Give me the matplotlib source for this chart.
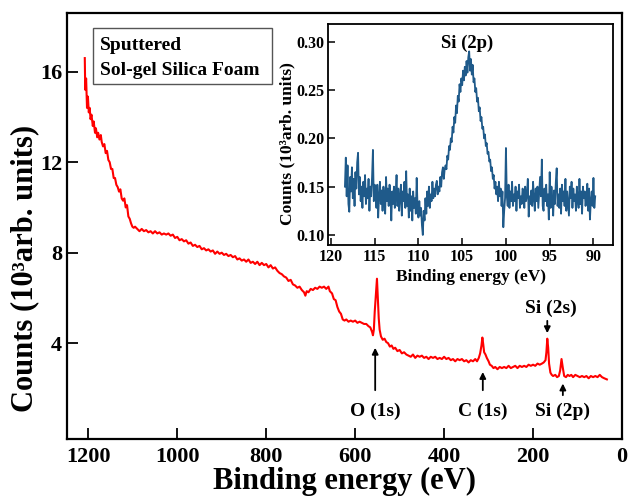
import numpy as np
import matplotlib
matplotlib.use("Agg")
import matplotlib.pyplot as plt
from matplotlib.patches import Rectangle

plt.rcParams["font.family"] = "Liberation Serif"
plt.rcParams["font.weight"] = "bold"
plt.rcParams["axes.labelweight"] = "bold"
plt.rcParams["xtick.direction"] = "in"
plt.rcParams["ytick.direction"] = "in"

# survey spectrum (binding energy eV, counts 10^3)
survey = [
    (1208, 16.6), (1207, 15.2), (1205, 15.7), (1203, 14.4), (1201, 14.9), (1199, 14.2),
    (1197, 14.4), (1195, 13.9), (1193, 14.1), (1190, 13.6), (1188, 13.8), (1185, 13.3),
    (1183, 13.5), (1180, 13.1), (1178, 13.3), (1175, 13.0), (1172, 13.2), (1170, 12.9),
    (1167, 12.7), (1164, 12.8), (1161, 12.4), (1158, 12.5), (1155, 12.1), (1152, 12.0),
    (1149, 11.7), (1146, 11.7), (1143, 11.3), (1140, 11.3), (1137, 11.0), (1134, 10.9),
    (1131, 10.7), (1128, 10.8), (1125, 10.4), (1122, 10.3), (1119, 10.4), (1116, 10.0),
    (1113, 10.1), (1110, 9.6), (1107, 9.5), (1104, 9.3), (1101, 9.15), (1098, 9.1),
    (1095, 9.15), (1090, 9.05), (1085, 8.95), (1080, 9.05), (1075, 8.95), (1070, 9.0),
    (1065, 8.9), (1060, 8.95), (1055, 8.85), (1050, 8.95), (1045, 8.85), (1040, 8.9),
    (1035, 8.8), (1030, 8.85), (1025, 8.8), (1020, 8.85), (1015, 8.75), (1010, 8.8),
    (1005, 8.65), (1000, 8.7), (995, 8.55), (990, 8.6), (985, 8.5), (980, 8.55),
    (975, 8.4), (970, 8.45), (965, 8.3), (960, 8.35), (955, 8.25), (950, 8.3),
    (945, 8.15), (940, 8.2), (935, 8.1), (930, 8.15), (925, 8.05), (920, 8.1),
    (915, 7.95), (910, 8.05), (905, 7.95), (900, 8.0), (895, 7.9), (890, 7.95),
    (885, 7.85), (880, 7.9), (875, 7.8), (870, 7.85), (865, 7.7), (860, 7.75),
    (855, 7.65), (850, 7.7), (845, 7.6), (840, 7.7), (835, 7.55), (830, 7.6),
    (825, 7.5), (820, 7.6), (815, 7.45), (810, 7.55), (805, 7.45), (800, 7.5),
    (795, 7.35), (790, 7.45), (785, 7.3), (780, 7.35), (775, 7.2), (770, 7.1),
    (765, 7.05), (760, 6.95), (755, 6.9), (750, 6.75), (745, 6.8), (740, 6.6),
    (735, 6.55), (730, 6.45), (725, 6.5), (720, 6.35), (715, 6.25), (712, 6.1),
    (709, 6.3), (705, 6.25), (700, 6.4), (695, 6.35), (690, 6.45), (685, 6.4),
    (680, 6.5), (675, 6.45), (670, 6.5), (665, 6.4), (660, 6.5), (657, 6.3),
    (652, 6.2), (648, 5.95), (644, 5.9), (640, 5.6), (636, 5.4), (632, 5.3),
    (628, 5.05), (624, 5.0), (620, 5.05), (615, 4.95), (610, 5.0), (605, 4.95),
    (600, 5.0), (595, 4.9), (590, 4.95), (585, 4.9), (580, 4.85), (575, 4.85),
    (570, 4.75), (566, 4.7), (562, 4.5), (560, 4.35), (558, 4.6), (556, 5.4),
    (553, 6.3), (551, 6.85), (549, 6.0), (547, 5.1), (545, 4.6), (542, 4.3),
    (538, 4.15), (534, 4.2), (530, 4.05), (526, 4.0), (522, 3.85), (518, 3.9),
    (514, 3.75), (510, 3.8), (505, 3.65), (500, 3.7), (495, 3.55), (490, 3.6),
    (485, 3.5), (480, 3.45), (475, 3.4), (470, 3.5), (465, 3.35), (460, 3.45),
    (455, 3.4), (450, 3.45), (445, 3.35), (440, 3.4), (435, 3.3), (430, 3.4),
    (425, 3.35), (420, 3.4), (415, 3.3), (410, 3.35), (405, 3.3), (400, 3.4),
    (395, 3.3), (390, 3.35), (385, 3.25), (380, 3.3), (375, 3.2), (370, 3.3),
    (365, 3.25), (360, 3.3), (355, 3.2), (350, 3.25), (345, 3.15), (340, 3.25),
    (335, 3.2), (330, 3.3), (326, 3.2), (322, 3.35), (319, 3.55), (316, 3.9),
    (314, 4.25), (312, 3.95), (310, 3.6), (307, 3.5), (304, 3.35), (300, 3.2),
    (297, 3.05), (293, 3.0), (289, 2.9), (285, 2.95), (280, 2.85), (275, 2.95),
    (270, 2.9), (265, 2.95), (260, 2.9), (255, 3.0), (250, 2.9), (245, 2.95),
    (240, 3.0), (235, 2.9), (230, 3.0), (225, 2.95), (220, 3.0), (215, 2.95),
    (210, 3.05), (205, 3.0), (200, 3.05), (195, 3.0), (190, 3.1), (185, 3.05),
    (180, 3.1), (176, 3.15), (172, 3.25), (170, 3.6), (168, 4.2), (166, 3.8),
    (164, 3.1), (161, 2.7), (158, 2.6), (155, 2.55), (150, 2.6), (146, 2.5),
    (142, 2.55), (139, 2.8), (136, 3.3), (133, 2.9), (130, 2.55), (126, 2.5),
    (122, 2.6), (118, 2.55), (114, 2.6), (110, 2.5), (105, 2.6), (100, 2.55),
    (95, 2.5), (90, 2.55), (85, 2.5), (80, 2.55), (75, 2.45), (70, 2.55),
    (65, 2.5), (60, 2.55), (55, 2.5), (50, 2.6), (45, 2.5), (40, 2.45), (34, 2.4),
]
be_survey = [p[0] for p in survey]
cnt_survey = [p[1] for p in survey]

# Si 2p high resolution scan, 118.4 -> 89.8 eV in 0.1 eV steps
si2p_counts = [
    # 118.4 - 115.0
    0.150, 0.180, 0.140, 0.172, 0.132, 0.124, 0.160, 0.145, 0.170, 0.138,
    0.158, 0.130, 0.165, 0.148, 0.175, 0.185, 0.142, 0.160, 0.135, 0.150,
    0.128, 0.155, 0.140, 0.162, 0.132, 0.148, 0.138, 0.158, 0.125, 0.150,
    0.140, 0.160, 0.188, 0.135, 0.152,
    # 114.9 - 110.0
    0.145, 0.128, 0.152, 0.118, 0.140, 0.155, 0.132, 0.146, 0.125, 0.150,
    0.138, 0.122, 0.160, 0.135, 0.148, 0.130, 0.152, 0.140, 0.115, 0.145,
    0.132, 0.150, 0.128, 0.142, 0.162, 0.130, 0.148, 0.125, 0.140, 0.152,
    0.120, 0.145, 0.135, 0.155, 0.128, 0.166, 0.130, 0.142, 0.118, 0.148,
    0.125, 0.140, 0.115, 0.145, 0.128, 0.138, 0.122, 0.159, 0.130, 0.118,
    # 109.9 - 107.0
    0.135, 0.120, 0.128, 0.110, 0.100, 0.125, 0.115, 0.138, 0.122, 0.145,
    0.130, 0.150, 0.128, 0.142, 0.135, 0.155, 0.138, 0.148, 0.140, 0.152,
    0.156, 0.142, 0.150, 0.145, 0.160, 0.150, 0.165, 0.170, 0.158, 0.168,
    # 106.9 - 104.2
    0.172, 0.168, 0.182, 0.178, 0.192, 0.188, 0.200, 0.196, 0.212, 0.206,
    0.222, 0.216, 0.234, 0.226, 0.244, 0.238, 0.256, 0.248, 0.262, 0.255,
    0.270, 0.260, 0.274, 0.265, 0.280, 0.268, 0.284, 0.290,
    # 104.1 - 101.1
    0.270, 0.282, 0.266, 0.276, 0.258, 0.262, 0.248, 0.252, 0.238, 0.242,
    0.228, 0.232, 0.218, 0.222, 0.210, 0.212, 0.200, 0.204, 0.192, 0.195,
    0.184, 0.186, 0.176, 0.178, 0.166, 0.170, 0.158, 0.162, 0.148, 0.155,
    0.142,
    # 101.0 - 89.8
    0.150, 0.135, 0.155, 0.140, 0.148, 0.130, 0.145, 0.108, 0.125, 0.138,
    0.190, 0.140, 0.130, 0.152, 0.128, 0.145, 0.135, 0.155, 0.130, 0.142,
    0.135, 0.150, 0.125, 0.145, 0.138, 0.152, 0.128, 0.140, 0.132, 0.148,
    0.145, 0.128, 0.150, 0.135, 0.142, 0.158, 0.119, 0.140, 0.132, 0.146,
    0.130, 0.155, 0.138, 0.125, 0.148, 0.135, 0.150, 0.128, 0.145, 0.160,
    0.140, 0.178, 0.130, 0.125, 0.148, 0.135, 0.152, 0.130, 0.142, 0.116,
    0.165, 0.128, 0.150, 0.138, 0.120, 0.146, 0.132, 0.155, 0.169, 0.130,
    0.142, 0.128, 0.148, 0.122, 0.152, 0.135, 0.145, 0.130, 0.158, 0.125,
    0.145, 0.132, 0.120, 0.150, 0.138, 0.155, 0.128, 0.148, 0.135, 0.142,
    0.125, 0.150, 0.138, 0.128, 0.158, 0.132, 0.145, 0.122, 0.150, 0.138,
    0.145, 0.130, 0.140, 0.153, 0.125, 0.148, 0.116, 0.135, 0.145, 0.130,
    0.159, 0.128, 0.140,
]
si2p_be = np.linspace(118.4, 89.8, len(si2p_counts))

# peak labels: (text, x, label y, arrow tail y, arrow head y)
peaks = [
    ("O (1s)", 555, 0.97, 1.80, 3.92),
    ("C (1s)", 313, 0.97, 1.80, 2.85),
    ("Si (2p)", 133, 0.97, 1.58, 2.34),
]

fig = plt.figure(figsize=(6.31, 4.96), dpi=100)
ax = fig.add_axes([67 / 631, 57 / 496, 555 / 631, 425.7 / 496])
ax.plot(be_survey, cnt_survey, color="red", lw=1.5)
ax.set_xlim(1248, 0)
ax.set_ylim(-0.234, 18.58)
ax.set_xticks([1200, 1000, 800, 600, 400, 200, 0])
ax.set_yticks([4, 8, 12, 16])
ax.tick_params(length=8, width=1.3, labelsize=16)
ax.tick_params(axis="x", pad=6)
for s in ax.spines.values():
    s.set_linewidth(1.6)
ax.set_xlabel("Binding energy (eV)", fontsize=22, labelpad=0)
ax.set_ylabel("Counts (10³arb. units)", fontsize=22)
ax.yaxis.set_label_coords(-0.05, 0.40)

for name, x, ylab, y0, y1 in peaks:
    ax.annotate("", xy=(x, y1), xytext=(x, y0),
                arrowprops=dict(arrowstyle="-|>", color="k", lw=1.3, mutation_scale=9))
    ax.text(x, ylab, name, ha="center", va="center", fontsize=14)
ax.annotate("", xy=(168, 4.32), xytext=(168, 5.11),
            arrowprops=dict(arrowstyle="-|>", color="k", lw=1.3, mutation_scale=9))
ax.text(160, 5.54, "Si (2s)", ha="center", va="center", fontsize=14)

# sample box
ax.add_patch(Rectangle((0.0463, 0.834), 0.3225, 0.1308, transform=ax.transAxes,
                       fill=False, edgecolor="#555555", lw=1.0))
ax.text(0.0595, 0.9255, "Sputtered", transform=ax.transAxes, va="center", fontsize=14)
ax.text(0.0595, 0.8668, "Sol-gel Silica Foam", transform=ax.transAxes, va="center", fontsize=14)

# inset
ins = fig.add_axes([328.3 / 631, 251 / 496, 284.4 / 631, 220.7 / 496])
ins.plot(si2p_be, si2p_counts, color="#1f5a8a", lw=1.3)
ins.set_xlim(120.3, 87.8)
ins.set_ylim(0.0896, 0.318)
ins.set_xticks([120, 115, 110, 105, 100, 95, 90])
ins.set_yticks([0.10, 0.15, 0.20, 0.25, 0.30])
ins.set_yticklabels(["0.10", "0.15", "0.20", "0.25", "0.30"])
ins.tick_params(length=5, width=1.1, labelsize=11.5, pad=3)
for s in ins.spines.values():
    s.set_linewidth(1.3)
ins.set_xlabel("Binding energy (eV)", fontsize=12.5, labelpad=3)
ins.set_ylabel("Counts (10³arb. units)", fontsize=12.5)
ins.yaxis.set_label_coords(-0.117, 0.46)
ins.text(104.4, 0.298, "Si (2p)", ha="center", va="center", fontsize=13.5)

fig.savefig("out.png", dpi=100)
